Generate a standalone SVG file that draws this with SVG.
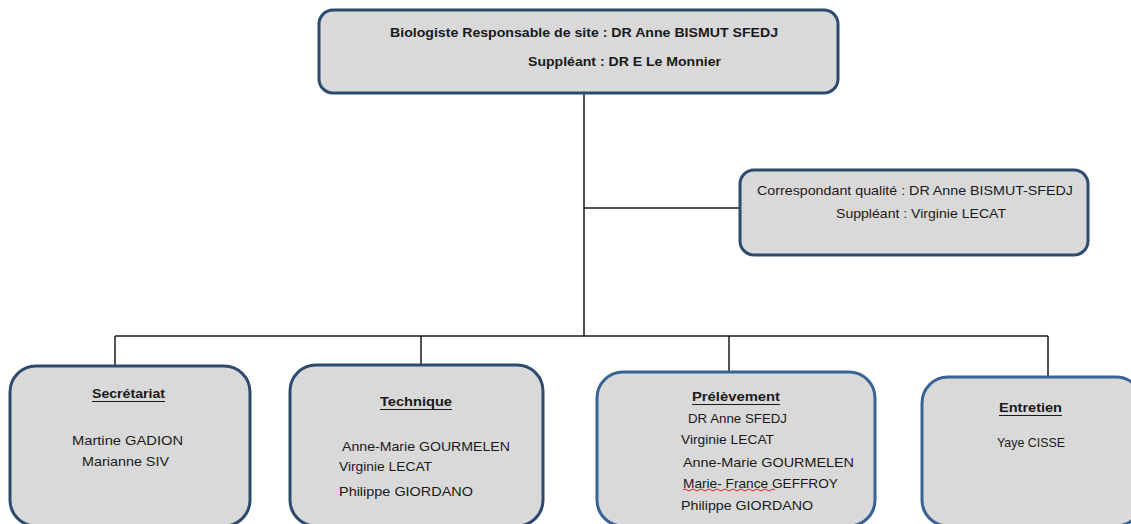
<svg xmlns="http://www.w3.org/2000/svg" width="1131" height="524" viewBox="0 0 1131 524">
  <style>
    .box { fill: #d9d9d9; stroke: #2e4a6e; stroke-width: 3; }
    .box2 { fill: #d9d9d9; stroke: #3a6396; stroke-width: 3; }
    .link { fill: none; stroke: #1a1a1a; stroke-width: 1.5; }
    text { font-family: "Liberation Sans", Arial, sans-serif; font-size: 13px; fill: #1a1a1a; }
    .b { font-weight: bold; }
    .ul { stroke: #1a1a1a; stroke-width: 1.2; }
  </style>

  <rect width="1131" height="524" fill="#ffffff"/>

  <!-- connectors -->
  <g id="connectors">
    <path class="link" d="M584 93 V336"/>
    <path class="link" d="M584 208 H740"/>
    <path class="link" d="M115 336 H1048"/>
    <path class="link" d="M115 336 V366"/>
    <path class="link" d="M421 336 V365"/>
    <path class="link" d="M729 336 V372"/>
    <path class="link" d="M1048 336 V377"/>
  </g>

  <g id="responsable">
    <rect class="box" x="319" y="10" width="519" height="83" rx="14"/>
    <text class="b" x="390" y="37" textLength="388" lengthAdjust="spacingAndGlyphs">Biologiste Responsable de site : DR Anne BISMUT SFEDJ</text>
    <text class="b" x="528" y="66" textLength="193" lengthAdjust="spacingAndGlyphs">Suppléant : DR E Le Monnier</text>
  </g>

  <g id="qualite">
    <rect class="box" x="740" y="170" width="348" height="85" rx="14"/>
    <text x="757" y="195" textLength="316" lengthAdjust="spacingAndGlyphs">Correspondant qualité : DR Anne  BISMUT-SFEDJ</text>
    <text x="836" y="218" textLength="170" lengthAdjust="spacingAndGlyphs">Suppléant : Virginie   LECAT</text>
  </g>

  <g id="secretariat">
    <rect class="box" x="10" y="366" width="240" height="160" rx="26"/>
    <text class="b" x="92" y="398" textLength="73" lengthAdjust="spacingAndGlyphs">Secrétariat</text>
    <line class="ul" x1="92" y1="401.5" x2="165" y2="401.5"/>
    <text x="72" y="445" textLength="111" lengthAdjust="spacingAndGlyphs">Martine GADION</text>
    <text x="82" y="466" textLength="87" lengthAdjust="spacingAndGlyphs">Marianne SIV</text>
  </g>

  <g id="technique">
    <rect class="box" x="290" y="365" width="253" height="161" rx="26"/>
    <text class="b" x="380" y="406" textLength="72" lengthAdjust="spacingAndGlyphs">Technique</text>
    <line class="ul" x1="380" y1="409.5" x2="452" y2="409.5"/>
    <text x="342" y="451" textLength="168" lengthAdjust="spacingAndGlyphs">Anne-Marie GOURMELEN</text>
    <text x="339" y="471" textLength="93" lengthAdjust="spacingAndGlyphs">Virginie LECAT</text>
    <text x="339" y="496" textLength="134" lengthAdjust="spacingAndGlyphs">Philippe GIORDANO</text>
  </g>

  <g id="prelevement">
    <rect class="box2" x="597" y="372" width="278" height="154" rx="26"/>
    <text class="b" x="692" y="401" textLength="88" lengthAdjust="spacingAndGlyphs">Prélèvement</text>
    <line class="ul" x1="692" y1="404.5" x2="780" y2="404.5"/>
    <text x="688" y="423" textLength="99" lengthAdjust="spacingAndGlyphs">DR Anne SFEDJ</text>
    <text x="681" y="444" textLength="93" lengthAdjust="spacingAndGlyphs">Virginie LECAT</text>
    <text x="683" y="467" textLength="171" lengthAdjust="spacingAndGlyphs">Anne-Marie GOURMELEN</text>
    <text x="683" y="488" textLength="155" lengthAdjust="spacingAndGlyphs">Marie- France GEFFROY</text>
    <!-- spell-check squiggle under the first name -->
    <path d="M683 490 q2 -2 4 0 t4 0 t4 0 t4 0 t4 0 t4 0 t4 0 t4 0 t4 0 t4 0 t4 0 t4 0 t4 0 t4 0 t4 0 t4 0 t4 0 t4 0 t4 0 t4 0 t4 0 t4 0 t4 0" fill="none" stroke="#e02020" stroke-width="1"/>
    <text x="681" y="510" textLength="132" lengthAdjust="spacingAndGlyphs">Philippe GIORDANO</text>
  </g>

  <g id="entretien">
    <rect class="box2" x="922" y="377" width="220" height="149" rx="26"/>
    <text class="b" x="999" y="412" textLength="63" lengthAdjust="spacingAndGlyphs">Entretien</text>
    <line class="ul" x1="999" y1="415.5" x2="1062" y2="415.5"/>
    <text x="997" y="447" textLength="68" lengthAdjust="spacingAndGlyphs">Yaye CISSE</text>
  </g>
</svg>
